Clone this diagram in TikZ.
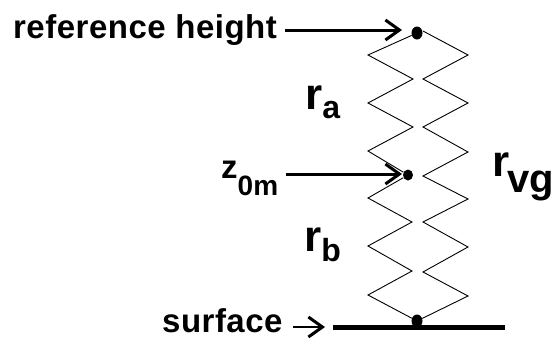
\documentclass[tikz,border=0pt]{standalone}
\usepackage{fontspec}
\setmainfont{Liberation Sans}
\newfontfamily\labelfont{Liberation Sans}[LetterSpace=1.5]
\usetikzlibrary{arrows.meta,bending,positioning,shapes.geometric}
\newcommand{\lowtext}[3]{\raisebox{#2}{\normalfont\bfseries\fontsize{#1}{#1}\selectfont #3}}
\begin{document}
\begin{tikzpicture}[x=1pt,y=-1pt,
    labeltext/.style={inner sep=0pt,font=\labelfont\bfseries\fontsize{33}{33}\selectfont},
    restext/.style={inner sep=0pt,font=\bfseries\fontsize{44}{44}\selectfont},
    blackdot/.style={ellipse,fill=black,inner sep=0pt,minimum width=11pt,minimum height=13pt},
    springline/.style={line width=0.9pt},
    pointer/.style={line width=3pt,-{Straight Barb[length=14pt,width=20pt,line width=3pt]},shorten <=8pt},
  ]
  \useasboundingbox (0,0) rectangle (555,338);

  % dots on the resistances
  \node[blackdot] (topdot) at (417,33) {};
  \node[blackdot,minimum width=10pt,minimum height=11pt] (middot) at (408,175) {};
  \node[blackdot] (surfdot) at (417,321) {};

  % left resistances
  \draw[springline] (topdot) -- (368,55) -- (413,79) -- (368,103) -- (413,127)
    -- (368,151) -- (middot);
  \draw[springline] (middot) -- (368,198) -- (412,222) -- (368,246) -- (412,271)
    -- (368,295) -- (surfdot);
  % right resistance
  \draw[springline] (423,31) -- (468,55) -- (423,79) -- (468,103) -- (423,127)
    -- (468,152) -- (423,176) -- (468,199) -- (423,222) -- (468,247) -- (423,272)
    -- (468,296) -- (surfdot);

  % surface line
  \coordinate (surfleft) at (333,327);
  \coordinate (surfright) at (505,327);
  \draw[line width=5pt] (surfleft) -- (surfright);

  % labels
  \node[labeltext,anchor=base west] (reflabel) at (13,38) {reference height};
  \node[labeltext,anchor=base west] (surflabel) at (162,332) {surface};
  \node[labeltext,anchor=base west] (zlabel) at (221,178) {z\lowtext{28}{-17pt}{0m}};
  \node[restext,anchor=base west] (ralabel) at (305,109) {r\lowtext{32}{-9pt}{a}};
  \node[restext,anchor=base west] (rblabel) at (304,251) {r\lowtext{32}{-10pt}{b}};
  \node[restext,anchor=base west] (rvglabel) at (492,176) {r\kern-2pt\lowtext{40}{-16pt}{vg}};

  % arrows
  \coordinate (reftip) at (402,30);
  \coordinate (ztip) at (402,174);
  \coordinate (surftip) at (325,327);
  \draw[pointer] (reflabel.east |- reftip) -- (reftip);
  \draw[pointer] (zlabel.east |- ztip) -- (ztip);
  \draw[pointer,line width=2.4pt,shorten <=10pt] (surflabel.east |- surftip) -- (surftip);
\end{tikzpicture}
\end{document}
